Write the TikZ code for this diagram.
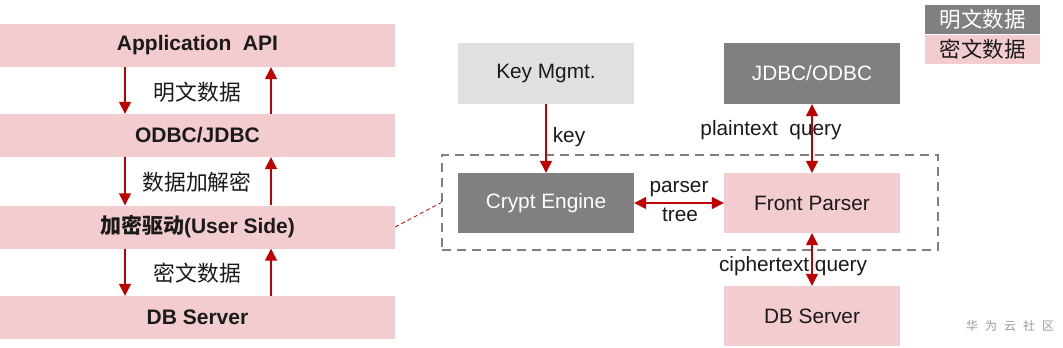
\documentclass[tikz,border=0pt]{standalone}
\usepackage{fontspec}
\setmainfont{Liberation Sans}
\newfontfamily\cjk{Noto Sans CJK SC}
\usetikzlibrary{arrows.meta}
\definecolor{pinkbox}{RGB}{242,204,206}
\definecolor{darkbox}{RGB}{128,128,128}
\definecolor{lightbox}{RGB}{224,224,224}
\definecolor{arrred}{RGB}{192,0,0}
\definecolor{txt}{RGB}{26,26,26}
\begin{document}
\begin{tikzpicture}[x=1pt,y=-1pt,
  bar/.style={fill=pinkbox, minimum width=395pt, minimum height=43pt, inner sep=0pt,
    text=txt, font=\fontsize{21}{25}\selectfont\bfseries},
  rbox/.style={minimum width=176pt, minimum height=61pt, inner sep=0pt,
    font=\fontsize{20.8}{24}\selectfont},
  pinkb/.style={rbox, fill=pinkbox, text=txt},
  darkb/.style={rbox, fill=darkbox, text=white},
  lightb/.style={rbox, fill=lightbox, text=txt},
  lbl/.style={text=txt, inner sep=0pt, font=\fontsize{20.8}{24}\selectfont},
  cjklbl/.style={text=txt, inner sep=0pt, font=\fontsize{21.8}{25}\selectfont\cjk},
  arr/.style={draw=arrred, line width=1.4pt, -{Triangle[length=12pt,width=12pt]}, color=arrred},
  darr/.style={draw=arrred, line width=1.4pt, {Triangle[length=12pt,width=12pt]}-{Triangle[length=12pt,width=12pt]}, color=arrred},
]
\useasboundingbox (0,0) rectangle (1063,348);

% left stack
\node[bar] (b1) at (197.5,45.5) {Application\ \ API};
\node[bar] (b2) at (197.5,135.5) {ODBC/JDBC};
\node[bar] (b3) at (197.5,227) {{\cjk\bfseries 加密驱动}(User Side)};
\node[bar] (b4) at (197.5,317.5) {DB Server};

\draw[arr] ([xshift=-72.5pt]b1.south) -- ([xshift=-72.5pt]b2.north);
\draw[arr] ([xshift=73.5pt]b2.north) -- ([xshift=73.5pt]b1.south);
\draw[arr] ([xshift=-72.5pt]b2.south) -- ([xshift=-72.5pt]b3.north);
\draw[arr] ([xshift=73.5pt]b3.north) -- ([xshift=73.5pt]b2.south);
\draw[arr] ([xshift=-72.5pt]b3.south) -- ([xshift=-72.5pt]b4.north);
\draw[arr] ([xshift=73.5pt]b4.north) -- ([xshift=73.5pt]b3.south);

\node[cjklbl] (t1) at (197.5,92) {明文数据};
\node[cjklbl] (t2) at (197,182) {数据加解密};
\node[cjklbl] (t3) at (197.5,273) {密文数据};

% right part
\node[draw=darkbox, dashed, dash pattern=on 9pt off 6pt, line width=1.3pt,
  minimum width=496pt, minimum height=95pt, inner sep=0pt] (grp) at (690,202.5) {};

\node[lightb] (key) at (546,73.5) {Key Mgmt.};
\node[darkb] (jdbc) at (812,73.5) {JDBC/ODBC};
\node[darkb, minimum height=60pt] (ce) at (546,203) {Crypt Engine};
\node[pinkb, minimum height=60pt] (fp) at (812,203) {Front Parser};
\node[pinkb, minimum height=60pt] (db) at (812,316) {DB Server};

\node[lbl] (lk) at (569,137) {key};
\node[lbl] (lp) at (771,130) {plaintext\ \ query};
\node[lbl] (lpa) at (679,189) {parser};
\node[lbl] (ltr) at (680,215) {tree};
\node[lbl] (lc) at (793,266) {ciphertext\ query};

\draw[arr] (key.south) -- (ce.north);
\draw[darr] (jdbc.south) -- (fp.north);
\draw[darr] (ce.east) -- (fp.west);
\draw[darr] (fp.south) -- (db.north);

\draw[arrred, dashed, dash pattern=on 4pt off 3pt, line width=0.8pt] (b3.east) -- (grp.west);

% legend
\node[fill=darkbox, text=white, minimum width=115pt, minimum height=29pt, inner sep=0pt,
  font=\fontsize{21.5}{24}\selectfont\cjk] (leg1) at (982.5,19.5) {明文数据};
\node[fill=pinkbox, text=txt, minimum width=115pt, minimum height=29pt, inner sep=0pt,
  font=\fontsize{21.5}{24}\selectfont\cjk] (leg2) at (982.5,49) {密文数据};

% watermark
\node[text=gray!80, font=\fontsize{12}{14}\selectfont\cjk, inner sep=0pt] (wm) at (1010,326) {华\hspace{7pt}为\hspace{7pt}云\hspace{7pt}社\hspace{7pt}区};
\end{tikzpicture}
\end{document}
